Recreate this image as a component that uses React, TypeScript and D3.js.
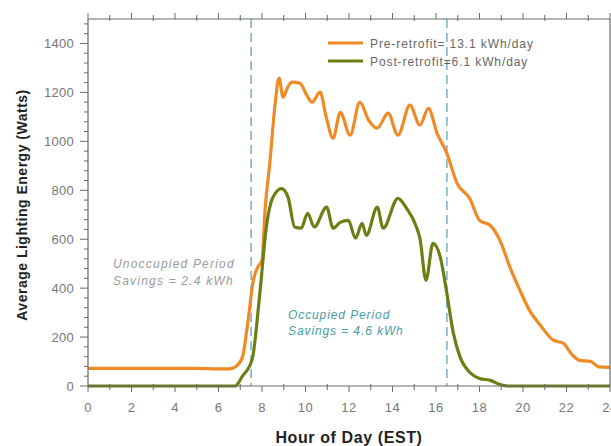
import React from "react";
import * as d3 from "d3";

const preHours = [0, 1, 2, 3, 4, 5, 6, 6.5, 6.8, 7.1, 7.36, 7.6, 7.8, 8.0, 8.14, 8.37, 8.6, 8.78, 8.97, 9.2, 9.38, 9.75, 10.05, 10.3, 10.67, 10.95, 11.27, 11.6, 12.05, 12.5, 12.9, 13.3, 13.8, 14.25, 14.8, 15.26, 15.65, 16.05, 16.5, 16.97, 17.56, 18.0, 18.5, 18.94, 19.4, 19.86, 20.3, 20.8, 21.4, 21.85, 22.2, 22.6, 23.1, 23.5, 24];
const preWatts = [72, 72, 72, 72, 72, 72, 70, 70, 80, 117, 268, 432, 485, 514, 718, 922, 1150, 1258, 1181, 1225, 1242, 1237, 1190, 1160, 1201, 1100, 1013, 1118, 1025, 1160, 1087, 1054, 1115, 1025, 1148, 1066, 1135, 1033, 951, 828, 765, 677, 656, 595, 485, 391, 309, 248, 187, 175, 134, 105, 101, 78, 76];

const postHours = [0, 2, 4, 6, 6.76, 7.1, 7.55, 7.9, 8.2, 8.5, 8.9, 9.2, 9.5, 9.8, 10.1, 10.4, 10.97, 11.27, 11.6, 11.97, 12.3, 12.6, 12.8, 13.3, 13.57, 14.25, 14.65, 15.1, 15.26, 15.54, 15.86, 16.2, 16.5, 16.8, 17.1, 17.56, 18.0, 18.5, 18.94, 19.3, 20, 22, 24];
const postWatts = [0, 0, 0, 0, 0, 40, 110, 378, 650, 771, 807, 771, 650, 645, 706, 650, 731, 645, 669, 677, 604, 665, 616, 731, 645, 767, 726, 650, 604, 432, 583, 526, 378, 215, 120, 55, 31, 23, 6, 0, 0, 0, 0];

const xMajor = [0, 2, 4, 6, 8, 10, 12, 14, 16, 18, 20, 22, 24];
const yMajor = [0, 200, 400, 600, 800, 1000, 1200, 1400];
const periodBounds = [7.5, 16.5];

const seriesNames = ["Pre-retrofit= 13.1 kWh/day", "Post-retrofit=6.1 kWh/day"];
const seriesColors = ["#f08a24", "#6b7f14"];

export default function App() {
  const L = 88, R = 610, T = 19, B = 386;
  const x = d3.scaleLinear().domain([0, 24]).range([L, R]);
  const y = d3.scaleLinear().domain([0, 1500]).range([B, T]);
  const line = d3
    .line<[number, number]>()
    .x((d) => x(d[0]))
    .y((d) => y(d[1]))
    .curve(d3.curveMonotoneX);

  const preData = preHours.map((h, i) => [h, preWatts[i]] as [number, number]);
  const postData = postHours.map((h, i) => [h, postWatts[i]] as [number, number]);

  const xMinor = d3.range(1, 24, 2);
  const yMinor = d3.range(0, 1500, 40).filter((v) => v % 200 !== 0);
  const axisColor = "#6a6a6a";
  const tickText = "#777";
  const font = "Arial, 'Liberation Sans', sans-serif";

  return (
    <svg width={611} height={446} style={{ position: "absolute", left: 0, top: 0, background: "#fff" }} fontFamily={font}>
      {periodBounds.map((h) => (
        <line key={h} x1={x(h)} x2={x(h)} y1={T} y2={B} stroke="#7fb3c6" strokeWidth={1.6} strokeDasharray="9,5" />
      ))}
      <path d={line(preData) || ""} fill="none" stroke={seriesColors[0]} strokeWidth={3.2} strokeLinejoin="round" />
      <path d={line(postData) || ""} fill="none" stroke={seriesColors[1]} strokeWidth={3.2} strokeLinejoin="round" />

      <line x1={L} x2={R} y1={T} y2={T} stroke={axisColor} strokeWidth={1.2} />
      <line x1={L} x2={R} y1={B} y2={B} stroke={axisColor} strokeWidth={1.2} />
      <line x1={L} x2={L} y1={T} y2={B} stroke={axisColor} strokeWidth={1.2} />
      <line x1={R} x2={R} y1={T} y2={B} stroke={axisColor} strokeWidth={1.2} />

      {xMajor.map((h) => (
        <g key={"xm" + h}>
          <line x1={x(h)} x2={x(h)} y1={B} y2={B + 6} stroke={axisColor} />
          <line x1={x(h)} x2={x(h)} y1={T} y2={T - 6} stroke={axisColor} />
          <text x={x(h)} y={412} textAnchor="middle" fontSize={13} fill={tickText} letterSpacing={0.5}>
            {h}
          </text>
        </g>
      ))}
      {xMinor.map((h) => (
        <g key={"xn" + h}>
          <line x1={x(h)} x2={x(h)} y1={B - 2} y2={B + 4} stroke={axisColor} />
          <line x1={x(h)} x2={x(h)} y1={T + 2} y2={T - 4} stroke={axisColor} />
        </g>
      ))}
      {yMajor.map((v) => (
        <g key={"ym" + v}>
          <line x1={L - 8} x2={L} y1={y(v)} y2={y(v)} stroke={axisColor} />
          <text x={74} y={y(v) + 4.5} textAnchor="end" fontSize={13} fill={tickText} letterSpacing={0.3}>
            {v}
          </text>
        </g>
      ))}
      {yMinor.map((v) => (
        <line key={"yn" + v} x1={L - 4} x2={L} y1={y(v)} y2={y(v)} stroke={axisColor} />
      ))}

      {seriesNames.map((n, i) => (
        <g key={n}>
          <line x1={328} x2={363} y1={43 + i * 18} y2={43 + i * 18} stroke={seriesColors[i]} strokeWidth={3} />
          <text x={370} y={47.5 + i * 18} fontSize={12} fill="#666" letterSpacing={0.9}>
            {n}
          </text>
        </g>
      ))}

      <g fontStyle="italic" fontSize={12} fill="#9a9a9a" letterSpacing={1.2}>
        <text x={113} y={268}>Unoccupied Period</text>
        <text x={113} y={285}>Savings = 2.4 kWh</text>
      </g>
      <g fontStyle="italic" fontSize={12} fill="#4a9aa6" letterSpacing={0.9}>
        <text x={288} y={319}>Occupied Period</text>
        <text x={288} y={335}>Savings = 4.6 kWh</text>
      </g>

      <text x={349} y={443} textAnchor="middle" fontSize={16} fontWeight="bold" fill="#222" letterSpacing={0.6}>
        Hour of Day (EST)
      </text>
      <text transform="translate(27,205) rotate(-90)" textAnchor="middle" fontSize={14} fontWeight="bold" fill="#222" letterSpacing={0.5}>
        Average Lighting Energy (Watts)
      </text>
    </svg>
  );
}
